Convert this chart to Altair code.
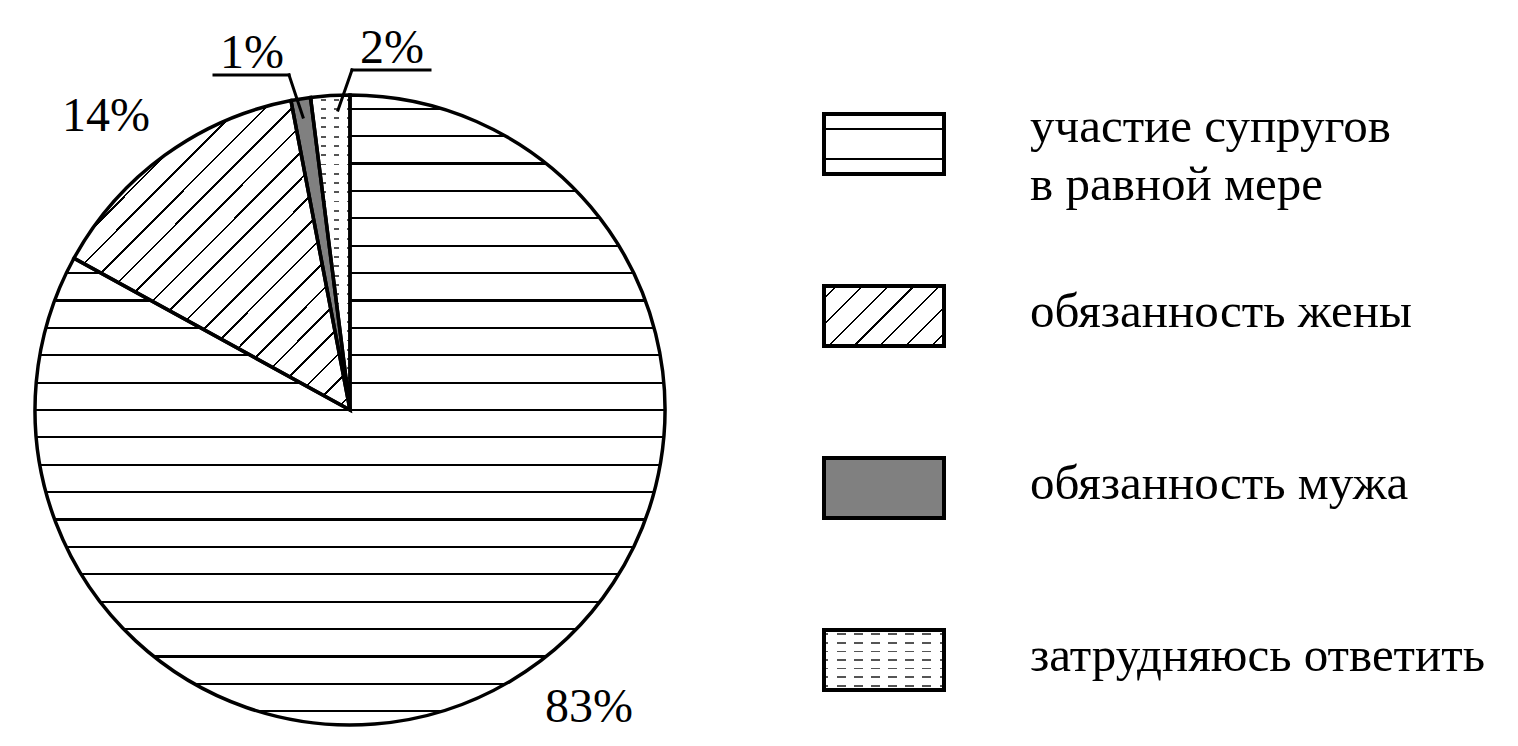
import altair as alt
import pandas as pd

# ---- data ----
categories = ["участие супругов в равной мере", "обязанность жены", "обязанность мужа", "затрудняюсь ответить"]
legend_labels = ["участие супругов\nв равной мере", "обязанность жены", "обязанность мужа", "затрудняюсь ответить"]
values = [83, 14, 1, 2]

df = pd.DataFrame({
    "cat": categories,
    "label": legend_labels,
    "value": values,
    "order": list(range(len(categories))),
})

FONT = "Liberation Serif"
CLEAR = "rgba(255,255,255,0)"


def stripes(n, frac, color, x2, y2, bg="white"):
    stops = []
    for i in range(n):
        c = (i + 0.5) / n
        a = max(c - frac / 2, 0.0)
        b = min(c + frac / 2, 1.0)
        stops += [(a, bg), (a, color), (b, color), (b, bg)]
    return {"gradient": "linear", "x1": 0, "y1": 0, "x2": x2, "y2": y2,
            "stops": [{"offset": round(o, 5), "color": col} for o, col in stops]}


slice_fills = {
    categories[0]: stripes(23, 0.0035, "black", 0, 1),
    categories[1]: stripes(22, 0.0045, "black", 0.94, 1.05),
    categories[2]: "#808080",
    categories[3]: stripes(34, 0.006, "#555555", 0, 1),
}
legend_fills = {
    categories[0]: stripes(2, 0.035, "black", 0, 1),
    categories[1]: stripes(7, 0.012, "black", 1.2, 0.6),
    categories[2]: "#808080",
    categories[3]: stripes(7, 0.03, "#555555", 0, 1),
}
# white gaps that break the horizontal lines into dashes
dash_gaps_slice = stripes(3, 0.2, "white", 1, 0, bg=CLEAR)
dash_gaps_legend = stripes(7, 0.07, "white", 1, 0, bg=CLEAR)

CX, CY, R = 342, 402, 315

base = alt.Chart(df).transform_window(
    cum="sum(value)", sort=[alt.SortField("order")], frame=[None, 0]
).transform_calculate(start="datum.cum - datum.value")

theta_scale = alt.Scale(domain=[0, 100], range=[0, 6.283185307179586])
arc_enc = dict(
    theta=alt.Theta("start:Q", scale=theta_scale),
    theta2="cum:Q",
    x=alt.value(CX),
    y=alt.value(CY),
)

layers = []
for c in categories:
    layers.append(
        base.transform_filter(alt.datum.cat == c)
        .mark_arc(fill=slice_fills[c], radius=R)
        .encode(**arc_enc)
    )
# dash gaps for the "затрудняюсь ответить" slice
layers.append(
    base.transform_filter(alt.datum.cat == categories[3])
    .mark_arc(fill=dash_gaps_slice, radius=R)
    .encode(**arc_enc)
)
# outlines
layers.append(
    base.mark_arc(fill=CLEAR, stroke="black", strokeWidth=3.5, radius=R, strokeJoin="miter")
    .encode(**arc_enc)
)

# percentage labels
label_pos = {
    categories[0]: (581, 714),
    categories[1]: (98, 123),
    categories[2]: (244, 60),
    categories[3]: (384, 55),
}
for c in categories:
    px, py = label_pos[c]
    layers.append(
        alt.Chart(df).transform_filter(alt.datum.cat == c)
        .transform_calculate(pct="datum.value + '%'")
        .mark_text(font=FONT, fontSize=48, align="center", baseline="alphabetic", color="black")
        .encode(text="pct:N", x=alt.value(px), y=alt.value(py))
    )

# leader lines for the small slices
one = pd.DataFrame({"k": [0]})
leaders = [
    (206, 281, 67, 67),
    (281, 295, 67, 109),
    (344, 422, 62, 62),
    (344, 330, 62, 102),
]
for x1, x2, y1, y2 in leaders:
    layers.append(
        alt.Chart(one).mark_rule(strokeWidth=3, color="black", strokeCap="square")
        .encode(x=alt.value(x1), x2=alt.value(x2), y=alt.value(y1), y2=alt.value(y2))
    )

# legend
y_scale = alt.Scale(domain=categories, range=[50, 738], paddingInner=0, paddingOuter=0)
for c in categories:
    layers.append(
        alt.Chart(df).transform_filter(alt.datum.cat == c)
        .mark_rect(height=60, fill=legend_fills[c])
        .encode(y=alt.Y("cat:N", scale=y_scale, axis=None), x=alt.value(816), x2=alt.value(936))
    )
layers.append(
    alt.Chart(df).transform_filter(alt.datum.cat == categories[3])
    .mark_rect(height=60, fill=dash_gaps_legend)
    .encode(y=alt.Y("cat:N", scale=y_scale, axis=None), x=alt.value(816), x2=alt.value(936))
)
layers.append(
    alt.Chart(df)
    .mark_rect(height=60, fill=CLEAR, stroke="black", strokeWidth=4)
    .encode(y=alt.Y("cat:N", scale=y_scale, axis=None), x=alt.value(816), x2=alt.value(936))
)

layers.append(
    alt.Chart(df).transform_filter(alt.datum.order == 0)
    .mark_text(font=FONT, fontSize=49, align="left", baseline="alphabetic", dy=-2,
               lineBreak="\n", lineHeight=58, color="black")
    .encode(text="label:N", y=alt.Y("cat:N", scale=y_scale, axis=None), x=alt.value(1022))
)
layers.append(
    alt.Chart(df).transform_filter(alt.datum.order > 0)
    .mark_text(font=FONT, fontSize=49, align="left", baseline="alphabetic", dy=11, color="black")
    .encode(text="label:N", y=alt.Y("cat:N", scale=y_scale, axis=None), x=alt.value(1022))
)

chart = alt.layer(*layers).properties(
    width=1500, height=728, padding=0, autosize="none"
).configure_view(stroke=None)

chart.save("out.html", embed_options={"renderer": "svg", "actions": False})
